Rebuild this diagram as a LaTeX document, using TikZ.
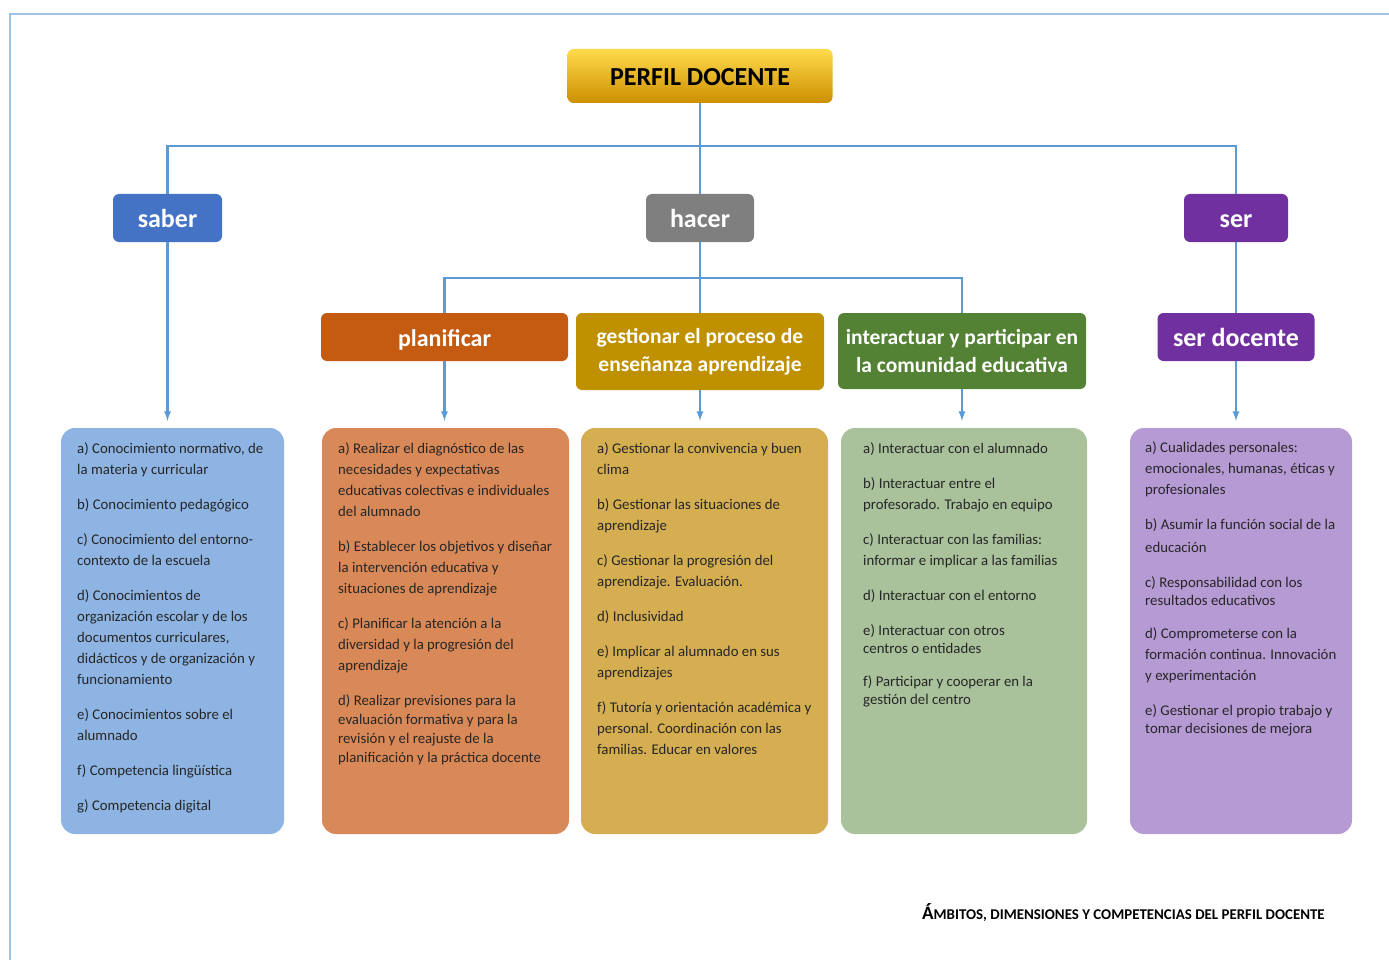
\documentclass[tikz,border=0pt]{standalone}
\usepackage{fontspec}
\setmainfont{Carlito}
\usetikzlibrary{arrows}
\definecolor{linkblue}{HTML}{5B9BD5}
\definecolor{framebl}{HTML}{9DC3E6}
\definecolor{saberblue}{HTML}{4472C4}
\definecolor{hacergray}{HTML}{7F7F7F}
\definecolor{serpurple}{HTML}{7030A0}
\definecolor{planorange}{HTML}{C55A11}
\definecolor{gestgold}{HTML}{BF9000}
\definecolor{intergreen}{HTML}{548235}
\definecolor{saberlight}{HTML}{8EB4E3}
\definecolor{planlight}{HTML}{D98958}
\definecolor{gestlight}{HTML}{D4AE50}
\definecolor{interlight}{HTML}{A9C29B}
\definecolor{serlight}{HTML}{B69AD4}
\definecolor{itemtext}{HTML}{262626}
\newcommand{\gap}{\\[14pt]}

\tikzset{
  head/.style={rounded corners=6pt, text=white, inner sep=0pt, align=center,
    font=\fontsize{21.5}{28}\selectfont\bfseries, minimum height=48pt},
  onehead/.style={head, font=\fontsize{26}{30}\selectfont\bfseries,
    text height=21pt, text depth=2pt},
  list/.style={rounded corners=14pt, minimum height=406pt},
  items/.style={anchor=north west, inner sep=0pt, align=left, text=itemtext,
    font=\fontsize{14.8}{21}\selectfont},
  link/.style={draw=linkblue, line width=2.2pt},
  arrowlink/.style={link, -latex, shorten >=7pt},
}

\begin{document}
\begin{tikzpicture}[x=1pt,y=-1pt]
	\useasboundingbox (0,0) rectangle (1389,960);
	\draw [draw=framebl, line width=1.6pt] (10,960) -- (10,14) -- (1389,14);

	% top levels
	\node [onehead, text=black, top color=yellow!60!orange!70, bottom color=orange!60!yellow!80!black,
		minimum width=265pt, minimum height=54pt]
		(perfil) at (700,76) {PERFIL DOCENTE};
	\node [onehead, fill=saberblue, minimum width=109pt] (saber) at (167.5,218) {saber};
	\node [onehead, fill=hacergray, minimum width=108pt] (hacer) at (700,218) {hacer};
	\node [onehead, fill=serpurple, minimum width=104pt] (ser) at (1236,218) {ser};

	\node [onehead, fill=planorange, minimum width=247pt, font=\fontsize{24}{28}\selectfont\bfseries]
		(planificar) at (444.5,337) {planificar};
	\node [head, fill=gestgold, minimum width=248pt, minimum height=77pt] (gestionar) at (700,351.5)
		{gestionar el proceso de\\enseñanza aprendizaje};
	\node [head, fill=intergreen, minimum width=248pt, minimum height=76pt] (interactuar) at (962,351)
		{interactuar y participar en\\la comunidad educativa};
	\node [onehead, fill=serpurple, minimum width=157pt] (serdocente) at (1236,337) {ser docente};

	\coordinate (lvl1) at (0,146);
	\coordinate (lvl2) at (0,278);

	\draw [link] (saber.north) |- (perfil.south |- lvl1) -| (ser.north);
	\draw [link] (perfil.south) -- (hacer.north);
	\draw [link] (planificar.north) |- (hacer.south |- lvl2) -| (interactuar.north);
	\draw [link] (hacer.south) -- (gestionar.north);
	\draw [link] (ser.south) -- (serdocente.north);

	% lists
	\node [list, fill=saberlight, minimum width=223pt] (saberlist) at (172.5,631) {};
	\node [list, fill=planlight, minimum width=247pt] (planlist) at (445.5,631) {};
	\node [list, fill=gestlight, minimum width=247pt] (gestlist) at (704.5,631) {};
	\node [list, fill=interlight, minimum width=246pt] (interlist) at (964,631) {};
	\node [list, fill=serlight, minimum width=222pt] (serlist) at (1241,631) {};

	\draw [arrowlink] (saber.south) -- (saber.south |- saberlist.north);
	\draw [arrowlink] (planificar.south) -- (planificar.south |- planlist.north);
	\draw [arrowlink] (gestionar.south) -- (gestionar.south |- gestlist.north);
	\draw [arrowlink] (interactuar.south) -- (interactuar.south |- interlist.north);
	\draw [arrowlink] (serdocente.south) -- (serdocente.south |- serlist.north);

	\node [items] (sabertxt) at (77,442) {a) Conocimiento normativo, de\\la materia y curricular\gap
		b) Conocimiento pedagógico\gap
		c) Conocimiento del entorno-\\contexto de la escuela\gap
		d) Conocimientos de\\organización escolar y de los\\documentos curriculares,\\didácticos y de organización y\\funcionamiento\gap
		e) Conocimientos sobre el\\alumnado\gap
		f) Competencia lingüística\gap
		g) Competencia digital};
	\node [items] (plantxt) at (338,442) {a) Realizar el diagnóstico de las\\necesidades y expectativas\\educativas colectivas e individuales\\del alumnado\gap
		b) Establecer los objetivos y diseñar\\la intervención educativa y\\situaciones de aprendizaje\gap
		c) Planificar la atención a la\\diversidad y la progresión del\\aprendizaje\gap
		d) Realizar previsiones para la\\[-2pt]evaluación formativa y para la\\[-2pt]revisión y el reajuste de la\\[-2pt]planificación y la práctica docente};
	\node [items] (gesttxt) at (597,442) {a) Gestionar la convivencia y buen\\clima\gap
		b) Gestionar las situaciones de\\aprendizaje\gap
		c) Gestionar la progresión del\\aprendizaje. Evaluación.\gap
		d) Inclusividad\gap
		e) Implicar al alumnado en sus\\aprendizajes\gap
		f) Tutoría y orientación académica y\\personal. Coordinación con las\\familias. Educar en valores};
	\node [items] (intertxt) at (863,442) {a) Interactuar con el alumnado\gap
		b) Interactuar entre el\\profesorado. Trabajo en equipo\gap
		c) Interactuar con las familias:\\informar e implicar a las familias\gap
		d) Interactuar con el entorno\gap
		e) Interactuar con otros\\[-3pt]centros o entidades\\[12pt]
		f) Participar y cooperar en la\\[-3pt]gestión del centro};
	\node [items] (sertxt) at (1145,441) {a) Cualidades personales:\\emocionales, humanas, éticas y\\profesionales\gap
		b) Asumir la función social de la\\[2pt]educación\gap
		c) Responsabilidad con los\\[-3pt]resultados educativos\\[12pt]
		d) Comprometerse con la\\formación continua. Innovación\\y experimentación\gap
		e) Gestionar el propio trabajo y\\[-3pt]tomar decisiones de mejora};

	\node [anchor=west, inner sep=0pt, font=\bfseries] (caption) at (922,913)
		{{\fontsize{19}{20}\selectfont Á}{\fontsize{14.9}{20}\selectfont MBITOS, DIMENSIONES Y COMPETENCIAS DEL PERFIL DOCENTE}};
\end{tikzpicture}
\end{document}
